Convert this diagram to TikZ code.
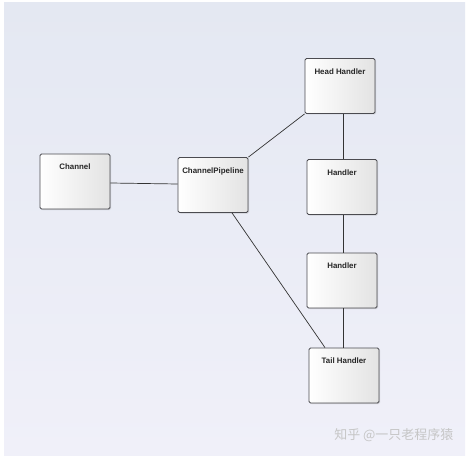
\documentclass[tikz,border=0pt]{standalone}
\usepackage{fontspec}
\setsansfont{Liberation Sans}
\newfontfamily\cjk{Noto Sans CJK SC}
\usetikzlibrary{shadows}
\definecolor{bgtop}{RGB}{228,232,242}
\definecolor{bgbot}{RGB}{240,240,249}
\definecolor{boxline}{RGB}{75,75,80}

\begin{document}
\begin{tikzpicture}[x=1pt,y=-1pt]
        \tikzstyle{every node}=[font=\sffamily\bfseries\fontsize{7.9}{9}\selectfont, text=black!85]
        \tikzstyle{box}=[draw=boxline, line width=0.8pt, rounded corners=1.5pt, minimum width=70pt, minimum height=55pt,
            left color=white, right color=gray!22, drop shadow={shadow xshift=1pt, shadow yshift=-1pt, opacity=0.25}]
        \tikzstyle{link}=[draw=black!80, line width=0.7pt]
        \useasboundingbox (0,0) rectangle (468,457);
        \fill[white] (0,0) rectangle (468,457);
        \shade[top color=bgtop, bottom color=bgbot] (4,3) rectangle (465,455);
        \node[box, label={[anchor=north, yshift=-7pt]north:Channel}] (channel) at (75,181.5) {};
        \node[box, label={[anchor=north, yshift=-7pt]north:ChannelPipeline}] (pipe) at (213,185) {};
        \node[box, label={[anchor=north, yshift=-7pt]north:Head Handler}] (head) at (340,86) {};
        \node[box, label={[anchor=north, yshift=-7pt]north:Handler}] (hone) at (342,187) {};
        \node[box, label={[anchor=north, yshift=-7pt]north:Handler}] (htwo) at (342,280.5) {};
        \node[box, label={[anchor=north, yshift=-7pt]north:Tail Handler}] (tail) at (344,375.5) {};
        \draw[link] ([yshift=-1.5pt]channel.east) -- ([yshift=1pt]pipe.west);
        \draw[link] (pipe.north east) -- (head.south west);
        \draw[link] ([xshift=19pt]pipe.south) -- ([xshift=-19pt]tail.north);
        \draw[link] ([xshift=3pt]head.south) -- ([xshift=1pt]hone.north);
        \draw[link] ([xshift=1pt]hone.south) -- ([xshift=1pt]htwo.north);
        \draw[link] ([xshift=1pt]htwo.south) -- ([xshift=-1pt]tail.north);
        \node[font=\cjk\fontsize{13}{14}\selectfont, text=gray!45, anchor=east] (mark) at (457,435) {知乎 @一只老程序猿};
    \end{tikzpicture}
\end{document}
